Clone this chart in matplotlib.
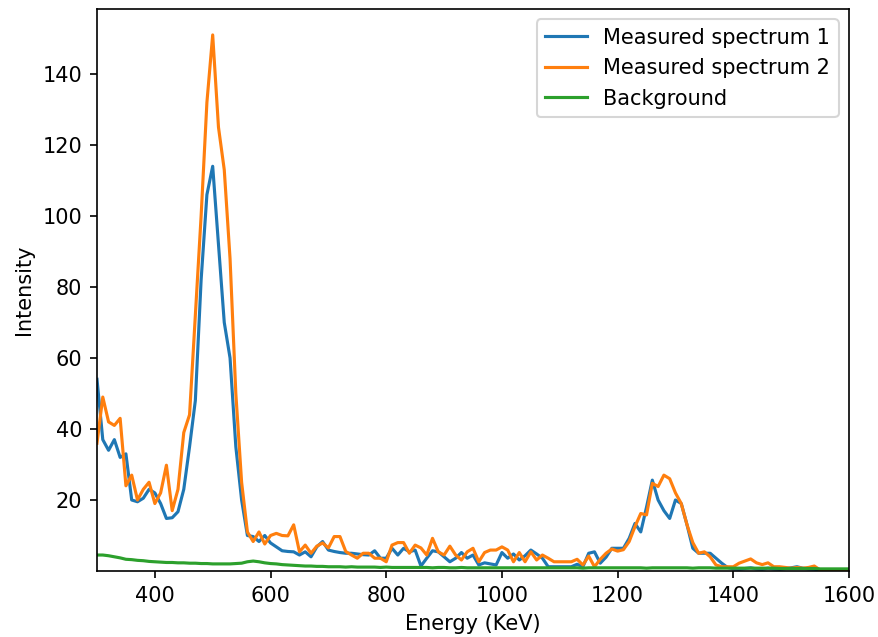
import numpy as np
import matplotlib
matplotlib.use('Agg')
import matplotlib.pyplot as plt

# energy grid (KeV)
energy = np.arange(300, 1601, 10)

spectrum1 = [
    54, 37, 34, 37, 32, 33, 20, 19.5, 20.5, 23,          # 300-390
    22, 19, 14.8, 15, 16.7, 23, 35, 48, 82, 106,         # 400-490
    114, 92, 70, 60, 35, 20, 10, 9.7, 8.3, 10,           # 500-590
    7.9, 6.8, 5.7, 5.5, 5.4, 4.5, 5.4, 4, 6.8, 8.3,      # 600-690
    5.9, 5.5, 5.2, 5, 5, 4.8, 4.6, 4.5, 5.7, 3.6,        # 700-790
    3.6, 6.4, 4.5, 6.4, 5.4, 5.9, 1.4, 3.6, 5.7, 5.4,    # 800-890
    4, 2.6, 3.6, 5.2, 3.6, 4.5, 1.7, 2.3, 2, 1.7,        # 900-990
    5.2, 3.6, 4.8, 3.1, 4.3, 5.9, 4.8, 3.6, 1.2, 1.2,    # 1000-1090
    1.2, 1.2, 1.2, 1.9, 1.2, 5, 5.4, 2.2, 3.9, 6.4,      # 1100-1190
    6.4, 6.4, 9.2, 13.4, 11, 18, 25.6, 20, 17, 14.8,     # 1200-1290
    20, 19, 13, 6.4, 5, 5, 5, 3.6, 2.2, 1,               # 1300-1390
    0.6, 0.5, 0.7, 0.9, 0.6, 0.5, 0.8, 0.6, 0.5, 0.7,    # 1400-1490
    0.9, 1.2, 0.8, 0.6, 0.5, 0.3, 0.3, 0.3, 0.3, 0.3,    # 1500-1590
    0.3,                                                 # 1600
]

spectrum2 = [
    36, 49, 42, 41, 43, 24, 27, 20, 23, 25,              # 300-390
    19, 22, 29.8, 17, 23, 39, 44, 72, 100, 132,          # 400-490
    151, 125, 113, 88, 50, 25, 11, 8.3, 11, 7.6,         # 500-590
    10, 10.6, 10, 9.9, 13, 5.4, 7.3, 5, 7, 7.9,          # 600-690
    6.5, 9.7, 9.7, 5.5, 4.5, 3.6, 5, 5, 3.6, 3.6,        # 700-790
    2.6, 7.3, 8, 8, 5, 7.3, 6.5, 4.5, 9.2, 5.4,          # 800-890
    4.5, 7, 4.5, 3.1, 5.4, 6.4, 2.6, 5.2, 5.9, 5.9,      # 900-990
    6.8, 5.9, 2.6, 5.2, 2.6, 5.4, 3.1, 4.5, 3.6, 2.6,    # 1000-1090
    2.6, 2.6, 2.6, 3.3, 1.7, 4.2, 1.2, 3.3, 5, 6.2,      # 1100-1190
    5.6, 6, 8.3, 12.5, 16.2, 15.8, 24.7, 23.8, 27, 26,   # 1200-1290
    22, 19, 13, 8, 5, 5.4, 4, 1.7, 1.2, 1.2,             # 1300-1390
    1.2, 2.2, 2.8, 3.4, 2.3, 1.8, 2.3, 1.2, 1.2, 1,      # 1400-1490
    0.8, 1, 0.8, 1, 1.4, 0.3, 0, 0, 0, 0,                # 1500-1590
    0,                                                   # 1600
]

background = [
    4.5, 4.5, 4.3, 4.0, 3.7, 3.3, 3.2, 3.0, 2.9, 2.7,    # 300-390
    2.6, 2.5, 2.4, 2.4, 2.3, 2.3, 2.2, 2.2, 2.1, 2.1,    # 400-490
    2.0, 2.0, 2.0, 2.0, 2.1, 2.2, 2.6, 2.8, 2.6, 2.3,    # 500-590
    2.1, 2.0, 1.8, 1.7, 1.6, 1.5, 1.4, 1.4, 1.3, 1.3,    # 600-690
    1.2, 1.2, 1.2, 1.1, 1.2, 1.1, 1.1, 1.1, 1.1, 1.0,    # 700-790
    1.1, 1.0, 1.0, 1.0, 1.0, 1.0, 1.0, 1.0, 0.9, 1.0,    # 800-890
    1.0, 0.9, 0.9, 1.0, 0.9, 0.9, 0.9, 0.9, 0.9, 0.9,    # 900-990
    0.9, 0.9, 0.9, 0.9, 0.9, 0.9, 0.9, 0.9, 0.9, 0.9,    # 1000-1090
    0.9, 0.9, 0.9, 0.9, 0.8, 0.9, 0.9, 0.9, 0.9, 0.9,    # 1100-1190
    0.9, 0.9, 0.9, 0.9, 0.9, 0.8, 0.9, 0.9, 0.9, 0.9,    # 1200-1290
    0.9, 0.9, 0.9, 0.8, 0.9, 0.9, 0.9, 0.8, 0.8, 0.8,    # 1300-1390
    0.8, 0.8, 0.8, 0.8, 0.8, 0.8, 0.8, 0.8, 0.7, 0.7,    # 1400-1490
    0.7, 0.7, 0.7, 0.7, 0.7, 0.6, 0.6, 0.6, 0.6, 0.6,    # 1500-1590
    0.6,                                                 # 1600
]

dpi = 150
fig = plt.figure(figsize=(878 / dpi, 637 / dpi), dpi=dpi)
ax = fig.add_axes([97 / 878, 1 - 571 / 637, 752 / 878, 562 / 637])

ax.plot(energy, spectrum1, label='Measured spectrum 1')
ax.plot(energy, spectrum2, label='Measured spectrum 2')
ax.plot(energy, background, label='Background')

ax.set_xlim(300, 1600)
ax.set_ylim(0, 158.3)
ax.set_yticks([20, 40, 60, 80, 100, 120, 140])
ax.set_xlabel('Energy (KeV)')
ax.set_ylabel('Intensity')
ax.legend(loc='upper right')

fig.savefig('out.png', dpi=dpi)
